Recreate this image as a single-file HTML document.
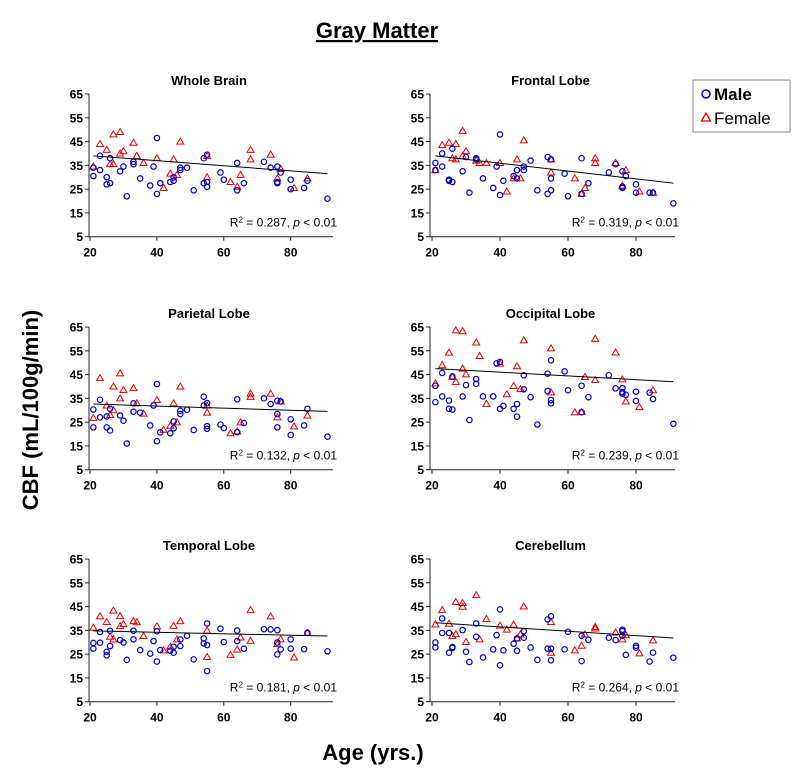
<!DOCTYPE html>
<html><head><meta charset="utf-8"><style>
body{margin:0;background:#fff;width:802px;height:784px;overflow:hidden}
svg{display:block;font-family:"Liberation Sans",Arial,sans-serif}
</style></head><body>
<svg id="chart" width="802" height="784" viewBox="0 0 802 784">
<text x="377" y="38" text-anchor="middle" font-size="22" font-weight="bold" text-decoration="underline">Gray Matter</text>
<text transform="translate(38,410) rotate(-90)" text-anchor="middle" font-size="22" font-weight="bold">CBF (mL/100g/min)</text>
<text x="373" y="760" text-anchor="middle" font-size="22" font-weight="bold">Age (yrs.)</text>
<g>
<rect x="693" y="80" width="97" height="52" fill="#fff" stroke="#888"/>
<circle cx="706" cy="94" r="4" fill="none" stroke="#0000cc" stroke-width="1.5"/>
<text x="714" y="100" font-size="17" font-weight="bold">Male</text>
<polygon points="706,113 710.5,121 701.5,121" fill="none" stroke="#e00" stroke-width="1.3"/>
<text x="714" y="124" font-size="17">Female</text>
</g>
<g id="panels"></g>
</svg>
<script>
const maleAges=[21,21,23,23,25,25,26,26,29,30,31,33,33,35,38,39,40,40,41,44,45,45,47,47,49,51,54,54,55,55,55,59,60,64,64,66,72,74,76,76,76,77,80,80,84,85,91];
const femaleAges=[21,23,25,26,27,27,29,29,30,33,34,36,40,42,44,45,46,47,55,55,62,64,65,68,68,74,76,77,81,85];
const panelTitles=["Whole Brain","Frontal Lobe","Parietal Lobe","Occipital Lobe","Temporal Lobe","Cerebellum"];
const r2Labels=["0.287","0.319","0.132","0.239","0.181","0.264"];
const yTicks=[5,15,25,35,45,55,65];
const xTicks=[20,40,60,80];
const trendStart=[39,39,32.6,47.5,34.8,38.2];
const trendEnd=[31.5,27.5,29.5,42,32.6,31.8];
const trendAges=[21,91];
const maleWhole=[34,30.5,39,33,30,27,38,27.5,32.5,34.5,22,36.5,35.5,29.5,26.5,34.5,46.5,23,27.5,28,30,28.5,33,34,34,24.5,38,27.5,39.5,28,26,32,29,36,24.5,27.5,36.5,34,34.5,27.5,28,32,29,25,25.5,28.5,21];
const femaleWhole=[34.5,44,41.5,35.5,35.5,48,49,40,41,44.5,39,36,38,25.5,31.5,37.5,31,45,39,30,28,26,31,41.5,37.5,39.5,29.5,33.5,25.5,29.5];
const maleFrontal=[36,33,40,34.5,29,28.5,42,28,32.5,38.5,23.5,38,37.5,29.5,25.5,34.5,48,22.5,28.5,30.5,33,29.5,34.5,33,37,24.5,38.5,23,37.5,29.5,24.5,31.5,22,38,23,27.5,32,35.5,32.5,25.5,26,30.5,27,23.5,23.5,23.5,19];
const femaleFrontal=[33,43.5,44.5,38,37.5,44,49.5,39,41,37,36,36,36,24,29.5,37.5,29.5,45.5,37.5,32,29.5,23,25.5,38,36,36,26.5,33,24,23.5];
const maleParietal=[30.3,22.8,34.4,27,27.4,22.8,21.5,30.6,27.8,25.6,16,32.9,29.4,29,23.6,32,41,17,20.7,20.3,22.4,25.3,28.4,29.8,30.2,21.7,35.7,32,33,23.3,22.2,24,22.5,34.6,20.8,24.6,35,32.6,34,28.4,22.8,33.7,26.2,19.6,23.6,30.6,18.9];
const femaleParietal=[26.7,43.5,32,28,30,40,45.5,35,38.5,39.3,32.9,28.6,34.3,21.8,23.5,32.9,24.9,40,32,29,20.3,21.1,24.9,37,35.6,37,27,33.7,23.2,27.8];
const maleOccipital=[40.3,33.4,45.7,35.8,34.1,30.6,44.2,30.3,35.8,40.6,25.9,43.1,41.1,35.8,35.8,49.7,50.3,30.6,31.8,30.6,32.6,27.3,44.7,38.8,35.5,24,45.4,38.1,51,34.3,32.9,46.3,38.4,40.3,29.2,35.5,44.7,39.2,39.3,37.6,37,36.5,37.8,33.9,37.4,34.7,24.3];
const femaleOccipital=[41.3,48.9,54.2,44,63.6,41.9,63.2,47.5,45.1,58.5,52.8,32.7,49.6,36.7,40.2,48.5,38.9,59.4,56,37.5,29.1,29.2,44,60,42.7,54.3,43,33.7,31.3,38.4];
const maleTemporal=[29.7,27.3,34.3,29.8,26,24.5,28.4,34.8,30.9,29.9,22.6,34.8,31.2,26.7,25.2,30.5,34.6,21.9,26.7,26.4,28.1,25.6,31.2,28.4,32.7,22.8,31.6,29.5,37.9,28.8,17.9,35.7,30.1,34.9,30.5,27.3,35.5,35.4,35.1,29.9,24.9,27,31.2,27.3,27.1,34,26.2];
const femaleTemporal=[36.1,40.9,38.5,32.3,31.2,43.3,41,36.8,37.6,38.9,38.4,32.6,36.7,26.6,28.1,36.9,31.2,38.8,34.9,23.8,24.7,26.9,32,43.5,30.6,40.9,29.2,31.2,23.6,33.9];
const maleCerebellum=[29.9,27.8,40,33.9,33.9,25.6,28,27.6,35.1,26,21.7,37.9,32.3,23.6,27,33,43.8,20.3,26.6,29.4,26.4,31.6,34.6,31.9,27.8,22.6,39.6,27.3,40.9,27.3,22.4,27,34.4,32.7,22.1,31,31.9,30.9,35.3,34.7,32.7,24.7,28.5,27.7,21.9,25.6,23.5];
const femaleCerebellum=[37.5,43.5,37.8,32.6,33.4,46.9,46.5,44.9,30.1,49.8,31.2,39.7,37,35.3,37.4,31.6,33.3,45.1,38.5,25.6,26.6,28.5,33.3,36.4,35.8,34.1,31.2,33,25.3,30.8];
const maleSeries=[maleWhole,maleFrontal,maleParietal,maleOccipital,maleTemporal,maleCerebellum];
const femaleSeries=[femaleWhole,femaleFrontal,femaleParietal,femaleOccipital,femaleTemporal,femaleCerebellum];

const NS="http://www.w3.org/2000/svg";
const root=document.getElementById('panels');
const layout=[{x0:89,x1:333,a20:90,sc:3.345,y0:94},{x0:430,x1:675,a20:432,sc:3.4,y0:94},
{x0:89,x1:333,a20:90,sc:3.345,y0:327},{x0:430,x1:675,a20:432,sc:3.4,y0:327},
{x0:89,x1:333,a20:90,sc:3.345,y0:559},{x0:430,x1:675,a20:432,sc:3.4,y0:559}];
const H=142.7;
function mk(tag,attrs,parent){const e=document.createElementNS(NS,tag);for(const k in attrs)e.setAttribute(k,attrs[k]);parent.appendChild(e);return e;}
layout.forEach((L,i)=>{
  const xs=a=>L.a20+(a-20)*L.sc;
  const ys=v=>L.y0+(65-v)/60*H;
  const g=mk('g',{},root);
  
  
  const t=mk('text',{x:(L.x0+L.x1)/2-2,y:L.y0-9,'text-anchor':'middle','font-size':13,'font-weight':'bold'},g);
  t.textContent=panelTitles[i];
  
  
  const yb=L.y0+H;
  const ax=mk('path',{d:`M${L.x0},${L.y0}V${yb}H${L.x1}`,stroke:'#222',fill:'none','stroke-width':1},g);
  
  
  yTicks.forEach(v=>{
    mk('line',{x1:L.x0-4,x2:L.x0,y1:ys(v),y2:ys(v),stroke:'#222'},g);
    const tx=mk('text',{x:L.x0-6,y:ys(v)+4.5,'text-anchor':'end','font-size':12,'font-weight':'bold'},g);
    tx.textContent=v;
    
    
  });
  xTicks.forEach(v=>{
    mk('line',{x1:xs(v),x2:xs(v),y1:yb,y2:yb+4,stroke:'#222'},g);
    const tx=mk('text',{x:xs(v),y:yb+20,'text-anchor':'middle','font-size':12,'font-weight':'bold'},g);
    tx.textContent=v;
    
    
  });
  femaleAges.forEach((a,j)=>{
    const cx=xs(a),cy=ys(femaleSeries[i][j]);
    const p=mk('polygon',{points:`${cx},${cy-3.5} ${cx+3.5},${cy+2.5} ${cx-3.5},${cy+2.5}`,fill:'none',stroke:'#e00','stroke-width':1},g);
    
    
  });
  maleAges.forEach((a,j)=>{
    const c=mk('circle',{cx:xs(a),cy:ys(maleSeries[i][j]),r:2.7,fill:'none',stroke:'#0000cc','stroke-width':1.2},g);
    
    
  });
  const tl=mk('line',{x1:xs(trendAges[0]),y1:ys(trendStart[i]),x2:xs(trendAges[1]),y2:ys(trendEnd[i]),stroke:'#000','stroke-width':1},g);
  
  
  const r=mk('text',{x:L.x1+4,y:yb-10,'text-anchor':'end','font-size':12},g);
  r.innerHTML='R<tspan baseline-shift="super" font-size="8">2</tspan> = '+r2Labels[i]+', <tspan font-style="italic">p</tspan> &lt; 0.01';
  
  
});
</script>
</body></html>
